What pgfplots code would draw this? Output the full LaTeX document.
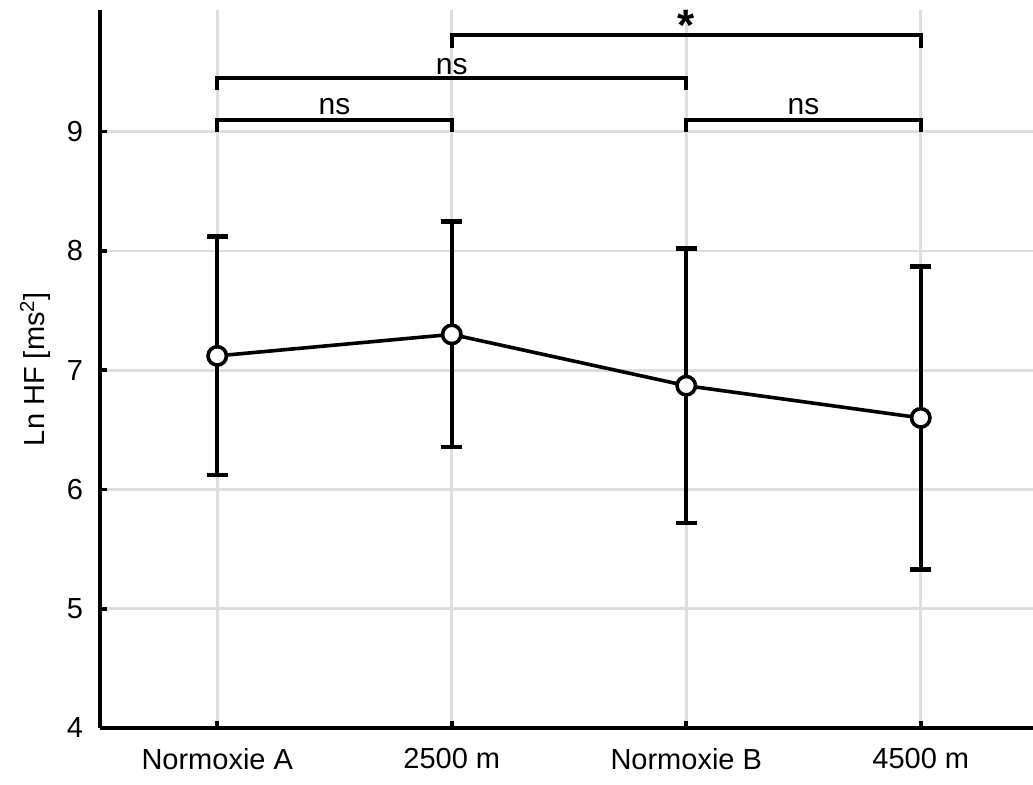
\documentclass[border=0pt]{standalone}
\usepackage{fontspec}
\setmainfont{Liberation Sans}
\usepackage{pgfplots}
\pgfplotsset{compat=1.18}
\begin{document}
\begin{tikzpicture}
\useasboundingbox (-50pt,-28.5pt) rectangle (466.5pt,364pt);
\begin{axis}[
  scale only axis,
  width=469pt, height=359pt,
  at={(0,0)}, anchor=south west,
  xmin=-0.5, xmax=3.5,
  ymin=4, ymax=10.02,
  axis lines=left,
  axis line style={-, line width=2pt},
  xtick={0,1,2,3},
  xticklabels={Normoxie A, 2500 m, Normoxie B, 4500 m},
  ytick={4,5,6,7,8,9},
  tick align=inside,
  major tick length=3.5pt,
  tick style={black, line width=1.8pt},
  grid=major,
  major grid style={line width=1.4pt, color=black!13},
  tick label style={font=\fontsize{14.5}{16}\selectfont},
  /pgf/number format/assume math mode=true,
  xticklabel style={yshift=-6.5pt},
  yticklabel style={xshift=-5pt},
  ylabel={Ln HF [ms\textsuperscript{2}]},
  ylabel style={font=\fontsize{14.5}{16}\selectfont, at={(axis description cs:-0.069,0.5)}, anchor=center, rotate=0},
  clip=false,
]
\addplot[black, line width=1.8pt, mark=*, mark size=4.6pt,
  mark options={fill=white, draw=black, line width=1.8pt},
  error bars/.cd, y dir=both, y explicit,
  error bar style={line width=1.8pt, black},
  error mark options={rotate=90, mark size=5.3pt, line width=2.2pt, black}]
  coordinates {
  (0,7.12) +- (0,1.00)
  (1,7.30) +- (0,0.945)
  (2,6.87) +- (0,1.15)
  (3,6.60) +- (0,1.27)
  };
% significance brackets
\addplot[black, line width=2pt, no marks] coordinates {(0,9.0) (0,9.1) (1,9.1) (1,9.0)};
\addplot[black, line width=2pt, no marks] coordinates {(2,9.0) (2,9.1) (3,9.1) (3,9.0)};
\addplot[black, line width=2pt, no marks] coordinates {(0,9.35) (0,9.45) (2,9.45) (2,9.35)};
\addplot[black, line width=2pt, no marks] coordinates {(1,9.70) (1,9.81) (3,9.81) (3,9.70)};
\node[anchor=south, inner sep=2.5pt, font=\fontsize{15}{16}\selectfont] at (axis cs:0.5,9.1) {ns};
\node[anchor=south, inner sep=2.5pt, font=\fontsize{15}{16}\selectfont] at (axis cs:2.5,9.1) {ns};
\node[anchor=south, inner sep=1.5pt, font=\fontsize{15}{16}\selectfont] at (axis cs:1,9.45) {ns};
\node[anchor=south, inner sep=0pt, yshift=-3pt, font=\fontsize{22}{24}\selectfont\bfseries] at (axis cs:2,9.81) {*};
\end{axis}
\end{tikzpicture}
\end{document}
